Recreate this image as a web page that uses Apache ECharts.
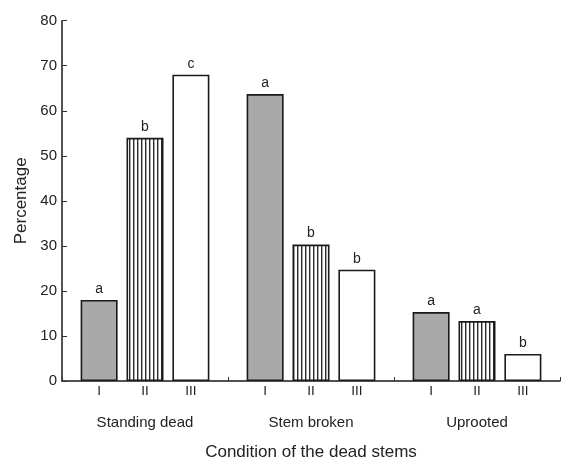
<!DOCTYPE html>
<html>
<head>
<meta charset="utf-8">
<script src="https://cdn.jsdelivr.net/npm/echarts@6/dist/echarts.min.js"></script>
<style>html,body{margin:0;padding:0;background:#fff}#c{width:568px;height:466px}</style>
</head>
<body>
<div id="c"></div>
<script>
const groups = ['Standing dead', 'Stem broken', 'Uprooted'];
const levels = ['I', 'II', 'III'];
const valuesI = [18, 63.7, 15.3];
const valuesII = [54, 30.3, 13.3];
const valuesIII = [68, 24.7, 6];
const lettersI = ['a', 'a', 'a'];
const lettersII = ['b', 'b', 'a'];
const lettersIII = ['c', 'b', 'b'];
const yTicks = [0, 10, 20, 30, 40, 50, 60, 70, 80];

const pc = document.createElement('canvas');
pc.width = 4; pc.height = 4;
const g = pc.getContext('2d');
g.fillStyle = '#fff'; g.fillRect(0, 0, 4, 4);
g.fillStyle = '#2a2a2a'; g.fillRect(1, 0, 1.4, 4);
const hatch = { image: pc, repeat: 'repeat' };

const fills = ['#a9a9a9', hatch, '#ffffff'];
const vals = [valuesI, valuesII, valuesIII];
const lets = [lettersI, lettersII, lettersIII];
const font = 'Liberation Sans';

const series = [];
levels.forEach((lv, k) => {
  series.push({
    type: 'bar', name: 'lbl' + lv, stack: 's' + lv,
    barWidth: 37, barGap: '24%',
    data: groups.map(() => 0),
    itemStyle: { color: 'transparent', borderWidth: 0 },
    label: { show: true, position: 'bottom', distance: 3, formatter: lv,
      color: '#222', fontSize: 13.5, fontFamily: font },
    silent: true
  });
  series.push({
    type: 'bar', name: lv, stack: 's' + lv,
    barWidth: 37, barGap: '24%',
    data: vals[k],
    itemStyle: { color: fills[k], borderColor: '#1a1a1a', borderWidth: 1.6 },
    label: { show: true, position: 'top', distance: 4,
      formatter: p => lets[k][p.dataIndex],
      color: '#222', fontSize: 14, fontFamily: font }
  });
});

const chart = echarts.init(document.getElementById('c'));
chart.setOption({
  animation: false,
  grid: { left: 62, right: 8, top: 20.7, bottom: 84 },
  xAxis: {
    type: 'category', data: groups,
    name: 'Condition of the dead stems', nameLocation: 'middle', nameGap: 63,
    nameTextStyle: { color: '#222', fontSize: 17, fontFamily: font },
    axisLine: { lineStyle: { color: '#1a1a1a', width: 1.5 } },
    axisTick: { show: true, inside: true, length: 4, lineStyle: { color: '#333' } },
    axisLabel: { margin: 34, color: '#222', fontSize: 15, fontFamily: font }
  },
  yAxis: {
    type: 'value', min: 0, max: 80, interval: 10,
    name: 'Percentage', nameLocation: 'middle', nameGap: 29,
    nameTextStyle: { color: '#222', fontSize: 17, fontFamily: font },
    axisLine: { show: true, lineStyle: { color: '#1a1a1a', width: 1.5 } },
    axisTick: { show: true, inside: true, length: 5, lineStyle: { color: '#333' } },
    axisLabel: { margin: 5, color: '#222', fontSize: 15, fontFamily: font,
      formatter: v => yTicks.includes(v) ? String(v) : '' },
    splitLine: { show: false }
  },
  series: series
});
</script>
</body>
</html>
